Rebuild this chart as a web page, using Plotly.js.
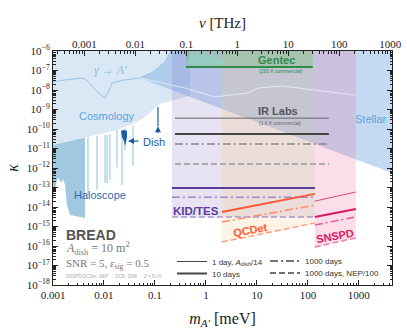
<!DOCTYPE html>
<html>
<head>
<meta charset="utf-8">
<script src="https://cdn.plot.ly/plotly-3.0.1.min.js"></script>
<style>
  html, body { margin: 0; padding: 0; background: #fff; }
  #chart { width: 407px; height: 333px; }
</style>
</head>
<body>
<div id="chart"></div>
<script>
// limites du graphique
const KAPPA_TOP = 2e-6;
const M_RIGHT = 6000;
const MEV_TO_THZ = 0.2418;

// Cosmologie : bord inférieur
const cosmoM = [0.001, 0.00172, 0.00387, 0.00836, 0.018, 0.0324, 0.0444, 0.0637, 0.0798, 0.105, 0.137, 0.197, 0.247, 0.486];
const cosmoK = [1.5e-11, 2.1e-11, 3.5e-11, 5.5e-11, 8.9e-11, 1.6e-10, 2.3e-10, 4.2e-10, 7.4e-10, 1.35e-9, 2.1e-9, 2.7e-9, 3.1e-9, 4.9e-9];

// gamma -> A'
const gammaM = [0.001, 0.00157, 0.00371, 0.00465, 0.0073, 0.0105, 0.012, 0.0144, 0.0236, 0.0508, 0.0914, 0.157, 0.197, 0.206];
const gammaK = [2.6e-8, 3.2e-8, 4.1e-8, 3.2e-8, 8e-9, 3.9e-9, 7.1e-9, 2.3e-8, 3.2e-8, 4.1e-8, 8.4e-8, 2.7e-7, 7.9e-7, 1e-6];
const gamma2M = [0.0508, 0.387, 1.5, 6.67, 10.5, 30.9, 137, 836];
const gamma2K = [4.1e-8, 1.26e-8, 4.4e-9, 7.1e-9, 1.26e-8, 1.6e-8, 1e-8, 5.5e-9];

// stellaire
const stellarM = [0.0508, 10, 6000];
const stellarK = [4.1e-8, 2.2e-10, 4.1e-13];

// haloscopes
const haloM = [0.001, 0.001094, 0.0012, 0.00131, 0.00144, 0.00157, 0.00172, 0.00188, 0.00216, 0.00424, 0.00424, 0.00387, 0.00172, 0.001];
const haloK = [2.3e-14, 7.4e-14, 2.4e-13, 3.1e-13, 1.7e-13, 2.7e-13, 1.35e-13, 1.26e-14, 3.9e-15, 2.7e-15, 3.6e-11, 3.5e-11, 2.1e-11, 1.5e-11];
const spikeM = [0.00485, 0.0073, 0.0105, 0.0115, 0.0131, 0.018, 0.0226, 0.0258, 0.037];
const spikeTop = [3.8e-11, 4.5e-11, 5e-11, 5e-11, 5.5e-11, 8.9e-11, 1e-10, 1.1e-10, 1.5e-10];
const spikeBot = [4.2e-14, 7.4e-14, 1.7e-13, 1.7e-13, 2.4e-13, 1.1e-12, 1.35e-13, 8.3e-12, 1.4e-12];

// Dish
const dishM = [0.0216, 0.0247, 0.0283, 0.0283, 0.027, 0.0258, 0.0247, 0.0225];
const dishK = [7.9e-11, 8.9e-11, 7.9e-11, 3.9e-11, 2.1e-11, 1.35e-11, 2.4e-11, 3.9e-11];
const dishArrowM = [0.1146, 0.1146];
const dishArrowK = [1.4e-10, 1.35e-9];

// pics dans la zone Gentec
const peakM = [0.424, 0.486, 0.531, 0.582, 0.637, 0.697, 0.762, 0.873, 1.0, 1.094, 1.25, 1.435, 1.64, 1.88, 2.25, 2.7];
const peakK = [1.9e-7, 4.4e-7, 8.9e-7, 4.9e-7, 7.0e-7, 1e-6, 4.9e-7, 6.2e-7, 7.9e-7, 4.4e-7, 5.5e-7, 6.2e-7, 3.9e-7, 4.4e-7, 2.7e-7, 1.9e-7];

// détecteurs
const gentecM = [0.406, 125];
const gentecK = [1.5e-7, 1.5e-7];

const irM = [0.247, 258];
const irThin = [3.6e-10, 3.6e-10];
const irThick = [5.5e-11, 5.5e-11];
const irDashDot = [1.7e-11, 1.7e-11];
const irDash = [1.6e-12, 1.6e-12];

const kidM = [0.215, 137];
const kidThick = [9.3e-14, 9.3e-14];
const kidDashDot = [3.2e-14, 3.2e-14];
const kidDash = [3.1e-15, 3.1e-15];

const qcdM = [2.06, 137];
const qcdThick = [5.5e-15, 4.7e-14];
const qcdDashDot = [1.7e-15, 1.26e-14];
const qcdDash = [1.6e-16, 1.5e-15];

const snM = [137, 873];
const snThin = [2.0e-14, 5.9e-14];
const snThick = [3.1e-15, 7.9e-15];
const snDashDot = [1.2e-15, 3.1e-15];
const snDash = [8.9e-17, 2.6e-16];

const tickVals = [0.001, 0.01, 0.1, 1, 10, 100, 1000];
const tickText = ['0.001', '0.01', '0.1', '1', '10', '100', '1000'];
const yExp = [-18, -17, -16, -15, -14, -13, -12, -11, -10, -9, -8, -7, -6];

const DASHDOT = '8px,3px,2px,3px';
const DASH = '6px,3px';
const SERIF = 'Liberation Serif, serif';
const SANS = 'Liberation Sans, Arial, sans-serif';

function zone(xs, ys, color) {
    return {x: xs, y: ys, mode: 'lines', fill: 'toself', fillcolor: color,
        line: {width: 0}, hoverinfo: 'skip', showlegend: false};
}
// bande verticale depuis une courbe jusqu'en haut
function bande(xs, ys, color) {
    return zone(xs.concat([xs[1], xs[0]]), ys.concat([KAPPA_TOP, KAPPA_TOP]), color);
}
function trait(xs, ys, color, width, dash) {
    return {x: xs, y: ys, mode: 'lines', line: {color: color, width: width, dash: dash || 'solid'},
        hoverinfo: 'skip', showlegend: false};
}

let traces = [];
// cosmologie
traces.push(zone(cosmoM.concat([cosmoM[cosmoM.length - 1], cosmoM[0]]),
    cosmoK.concat([KAPPA_TOP, KAPPA_TOP]), '#dae8f6'));
// haloscope
traces.push(zone(haloM, haloK, '#a0c9e1'));
let sx = [], sy = [];
for (let i = 0; i < spikeM.length; i++) {
    sx.push(spikeM[i], spikeM[i], null);
    sy.push(spikeTop[i], spikeBot[i], null);
}
traces.push(trait(sx, sy, '#a9cfe6', 1.3));
// stellaire
let stX = gammaM.slice(9).concat([gammaM[gammaM.length - 1], M_RIGHT]).concat(stellarM.slice().reverse());
let stY = gammaK.slice(9).concat([KAPPA_TOP, KAPPA_TOP]).concat(stellarK.slice().reverse());
traces.push(zone(stX, stY, 'rgba(120,170,225,0.43)'));
// bandes des détecteurs
traces.push(bande(kidM, kidDash, 'rgba(130,100,190,0.18)'));
traces.push(bande(qcdM, qcdDash, 'rgba(250,200,130,0.22)'));
traces.push(bande(snM, snDash, 'rgba(235,90,150,0.2)'));
traces.push(bande(gentecM, gentecK, 'rgba(110,190,110,0.35)'));
traces.push(zone(peakM, peakK, 'rgba(150,210,200,0.7)'));
// gamma -> A'
traces.push(trait(gammaM, gammaK, '#9cc3e6', 1));
traces.push(trait(gamma2M, gamma2K, 'rgba(225,238,250,0.9)', 1));
// Dish
traces.push(zone(dishM, dishK, '#1d5aa6'));
traces.push(trait(dishArrowM, dishArrowK, '#1d5aa6', 1.2));
// lignes
traces.push(trait(gentecM, gentecK, '#2e8b4a', 2));
traces.push(trait(irM, irThin, '#666', 1));
traces.push(trait(irM, irThick, '#444', 2));
traces.push(trait(irM, irDashDot, '#888', 1.3, DASHDOT));
traces.push(trait(irM, irDash, '#999', 1.3, DASH));
traces.push(trait(kidM, kidThick, '#5a3c9b', 2));
traces.push(trait(kidM, kidDashDot, '#9d8ac7', 1.5, DASHDOT));
traces.push(trait(kidM, kidDash, '#a997d0', 1.5, DASH));
traces.push(trait(qcdM, qcdThick, '#ff5733', 2));
traces.push(trait(qcdM, qcdDashDot, '#ff8a65', 1.5, DASHDOT));
traces.push(trait(qcdM, qcdDash, '#ff9e80', 1.5, DASH));
traces.push(trait(snM, snThin, '#e0457b', 1));
traces.push(trait(snM, snThick, '#d81b60', 2));
traces.push(trait(snM, snDashDot, '#e75a8a', 1.5, DASHDOT));
traces.push(trait(snM, snDash, '#f07fa5', 1.5, DASH));

// légende : une entrée par légende
function leg(name, width, dash, legend) {
    return {x: [null], y: [null], mode: 'lines', name: name, legend: legend,
        line: {color: '#444', width: width, dash: dash || 'solid'}};
}
traces.push(leg('1 day, <i>A</i><sub>dish</sub>/14', 1, 'solid', 'legend'));
traces.push(leg('10 days', 2, 'solid', 'legend2'));
traces.push(leg('1000 days', 1.5, DASHDOT, 'legend3'));
traces.push(leg('1000 days, NEP/100', 1.5, DASH, 'legend4'));
// axe du haut
traces.push({x: [], y: [], xaxis: 'x2', mode: 'lines', showlegend: false});

// conversion pixel -> papier pour les textes
const L = 53, R = 392, T = 51, B = 285;
function px(x) { return (x - L) / (R - L); }
function py(y) { return (B - y) / (B - T); }
function txt(text, x, y, color, size, opts) {
    return Object.assign({text: text, x: px(x), y: py(y), xref: 'paper', yref: 'paper',
        xanchor: 'center', yanchor: 'middle',
        showarrow: false, font: {family: SANS, size: size, color: color}}, opts || {});
}

let annotations = [
    txt('<i>γ</i> → <i>A′</i>', 110, 70, '#8dbbe2', 12, {font: {family: SERIF, size: 12, color: '#8dbbe2'}}),
    txt('Cosmology', 107, 116, '#5aa3dc', 11),
    txt('Haloscope', 100, 195, '#2b6cb0', 11),
    txt('Dish', 154, 142, '#1d5aa6', 11),
    txt('Stellar', 371, 119, '#5aa3dc', 11),
    txt('<b>Gentec</b>', 256, 60, '#2e8b4a', 11, {xanchor: 'left'}),
    txt('(293 K commercial)', 257, 71, '#2e8b4a', 5, {xanchor: 'left'}),
    txt('<b>IR Labs</b>', 256, 111, '#555', 11, {xanchor: 'left'}),
    txt('(1.6 K commercial)', 257, 122.5, '#666', 5, {xanchor: 'left'}),
    txt('<b>KID/TES</b>', 171, 211, '#5a3c9b', 11.5, {xanchor: 'left'}),
    txt('<b>QCDet</b>', 250, 230, '#ff5a36', 11, {textangle: -10}),
    txt('<b>SNSPD</b>', 335, 236, '#d81b60', 11, {textangle: -10}),
    txt('<b>BREAD</b>', 64, 235, '#555', 14, {xanchor: 'left'}),
    txt('<i>A</i><sub>dish</sub> = 10 m<sup>2</sup>', 64, 248, '#777', 12, {xanchor: 'left', font: {family: SERIF, size: 12, color: '#777'}}),
    txt('SNR = 5, <i>ε</i><sub>sig</sub> = 0.5', 64, 263.5, '#777', 11, {xanchor: 'left', font: {family: SERIF, size: 11, color: '#777'}}),
    txt('SNSPD/QCDet: NEP → DCR, SNR → <i>Z</i> = 5/√<i>N</i>', 64, 276, '#aaa', 4.5, {xanchor: 'left'}),
    // flèches Dish
    {x: Math.log10(0.0296), y: Math.log10(2.4e-11), xref: 'x', yref: 'y', ax: 12, ay: 0,
        showarrow: true, arrowhead: 2, arrowsize: 1, arrowwidth: 1.2, arrowcolor: '#1d5aa6', text: ''},
    {x: Math.log10(0.1146), y: Math.log10(1.4e-10), xref: 'x', yref: 'y', ax: 0, ay: 8,
        showarrow: true, arrowhead: 2, arrowsize: 1, arrowwidth: 1.2, arrowcolor: '#1d5aa6', text: ''}
];

// graduations
let minorX = [], minorY = [];
for (let e = -4; e <= 4; e++) {
    for (let d = 2; d <= 9; d++) minorX.push(d * Math.pow(10, e));
}
for (let e = -19; e <= -6; e++) {
    for (let d = 2; d <= 9; d++) minorY.push(d * Math.pow(10, e));
}
let yVals = yExp.map(e => Math.pow(10, e));
let yText = yExp.map(e => '10<sup>−' + (-e) + '</sup>');

const xRange = [-3, 3.65];
function legendAt(x, y) {
    return {x: px(x), y: py(y), xanchor: 'left', yanchor: 'top', bgcolor: 'rgba(0,0,0,0)',
        font: {family: SANS, size: 8, color: '#333'}, itemwidth: 30};
}
let layout = {
    width: 407, height: 333,
    margin: {l: L, r: 407 - R, t: T, b: 333 - B},
    paper_bgcolor: '#fff', plot_bgcolor: '#fff',
    font: {family: SERIF, size: 11, color: '#222'},
    xaxis: {
        type: 'log', range: xRange, tickvals: tickVals, ticktext: tickText,
        ticks: 'inside', ticklen: 5, tickcolor: '#222', showgrid: false, zeroline: false,
        showline: true, linecolor: '#222', linewidth: 1, mirror: true,
        minor: {tickvals: minorX, ticks: 'inside', ticklen: 2.5, tickcolor: '#222', showgrid: false},
        tickfont: {family: SERIF, size: 11},
        title: {text: '<i>m</i><sub><i>A′</i></sub> [meV]', font: {family: SERIF, size: 16}, standoff: 12}
    },
    xaxis2: {
        type: 'log', overlaying: 'x', side: 'top', anchor: 'y',
        range: [xRange[0] + Math.log10(MEV_TO_THZ), xRange[1] + Math.log10(MEV_TO_THZ)],
        tickvals: tickVals, ticktext: tickText,
        ticks: 'inside', ticklen: 5, tickcolor: '#222', showgrid: false, zeroline: false,
        minor: {tickvals: minorX, ticks: 'inside', ticklen: 2.5, tickcolor: '#222', showgrid: false},
        tickfont: {family: SERIF, size: 11},
        title: {text: '<i>ν</i> [THz]', font: {family: SERIF, size: 15}, standoff: 5}
    },
    yaxis: {
        type: 'log', range: [-18, -6], tickvals: yVals, ticktext: yText,
        ticks: 'inside', ticklen: 5, tickcolor: '#222', showgrid: false, zeroline: false,
        showline: true, linecolor: '#222', linewidth: 1, mirror: 'ticks',
        minor: {tickvals: minorY, ticks: 'inside', ticklen: 2.5, tickcolor: '#222', showgrid: false},
        tickfont: {family: SERIF, size: 11},
        title: {text: '<i>κ</i>', font: {family: SERIF, size: 16}, standoff: 4}
    },
    legend: legendAt(172, 247),
    legend2: legendAt(172, 259),
    legend3: legendAt(265, 246.5),
    legend4: legendAt(265, 258.5),
    annotations: annotations
};

Plotly.newPlot('chart', traces, layout, {displayModeBar: false, staticPlot: true});
</script>
</body>
</html>
